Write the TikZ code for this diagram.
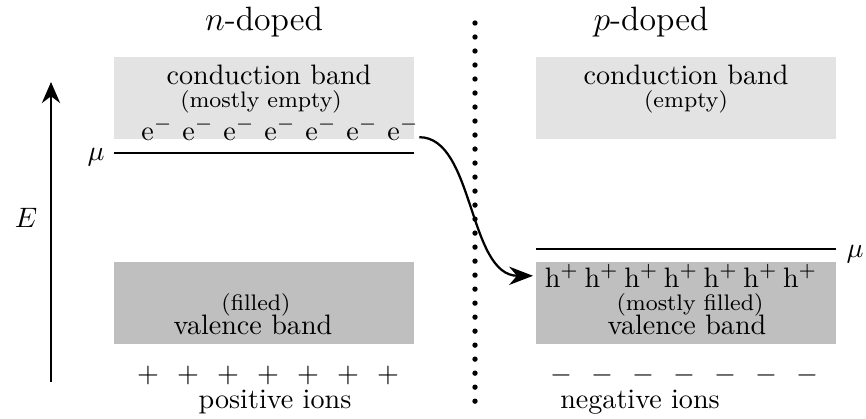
\documentclass[tikz,border=0pt]{standalone}
\usetikzlibrary{arrows.meta}
\definecolor{cbgray}{HTML}{E3E3E3}
\definecolor{vbgray}{HTML}{BFBFBF}
\begin{document}
\begin{tikzpicture}[x=0.0125cm,y=-0.0125cm,
  bandbox/.style={draw=none, minimum width=106.7pt, minimum height=29.2pt, inner sep=0pt},
  cband/.style={bandbox, fill=cbgray},
  vband/.style={bandbox, fill=vbgray},
  lbl/.style={inner sep=0pt, anchor=base},
  smalllbl/.style={lbl, font=\footnotesize},
  muline/.style={line width=0.9pt},
  arr/.style={line width=0.8pt, -{Stealth[length=8.5pt,width=6.5pt]}},
  dotline/.style={line width=1.9pt, line cap=round, dash pattern=on 0pt off 4.98pt}
 ]
\useasboundingbox (0,0) rectangle (866,418);

% bands
\node[cband] (lcb) at (264,98) {};
\node[cband] (rcb) at (686,98) {};
\node[vband] (lvb) at (264,303) {};
\node[vband] (rvb) at (686,303) {};

% titles
\node[lbl, font=\large] (ntitle) at (264,30) {$n$-doped};
\node[lbl, font=\large] (ptitle) at (651,30) {$p$-doped};

% conduction band texts
\node[lbl] (lcbt) at (269,84) {conduction band};
\node[smalllbl] (lcbs) at (261,107) {(mostly empty)};
\node[lbl] (rcbt) at (686,84) {conduction band};
\node[smalllbl] (rcbs) at (686,107) {(empty)};

% valence band texts
\node[smalllbl] (lvbs) at (256,310) {(filled)};
\node[lbl] (lvbt) at (253,334) {valence band};
\node[smalllbl] (rvbs) at (690,310) {(mostly filled)};
\node[lbl] (rvbt) at (687,334) {valence band};

% electrons and holes
\foreach \i in {1,...,7} {
  \node[lbl] (e\i) at ({157+41*(\i-1)},140) {e$^-$};
  \node[lbl] (h\i) at ({562+39.7*(\i-1)},287) {h$^+$};
  \node[lbl] (pl\i) at ({148+40*(\i-1)},382) {$+$};
  \node[lbl] (mi\i) at ({561+41*(\i-1)},382) {$-$};
}

\node[lbl] (pions) at (275,408) {positive ions};
\node[lbl] (nions) at (640,408) {negative ions};

% chemical potentials
\coordinate (lmuA) at (114,153);
\coordinate (lmuB) at (414,153);
\coordinate (rmuA) at (536,249);
\coordinate (rmuB) at (836,249);
\draw[muline] (lmuA) -- (lmuB);
\draw[muline] (rmuA) -- (rmuB);
\node (lmu) at (96,157) {$\mu$};
\node (rmu) at (855,254) {$\mu$};

% energy axis
\coordinate (ebot) at (51,382);
\coordinate (etop) at (51,82);
\draw[line width=0.8pt, -{Stealth[length=7.5pt,width=6.5pt]}] (ebot) -- (etop);
\node (elabel) at (26,218) {$E$};

% junction
\coordinate (jtop) at (475,23);
\coordinate (jbot) at (475,402);
\draw[dotline] (jtop) -- (jbot);

% transfer arrow
\draw[arr] ([yshift=1pt]e7.base east) .. controls +(55,0) and +(-65,0) .. ([xshift=-4pt]h1.west);
\end{tikzpicture}
\end{document}
